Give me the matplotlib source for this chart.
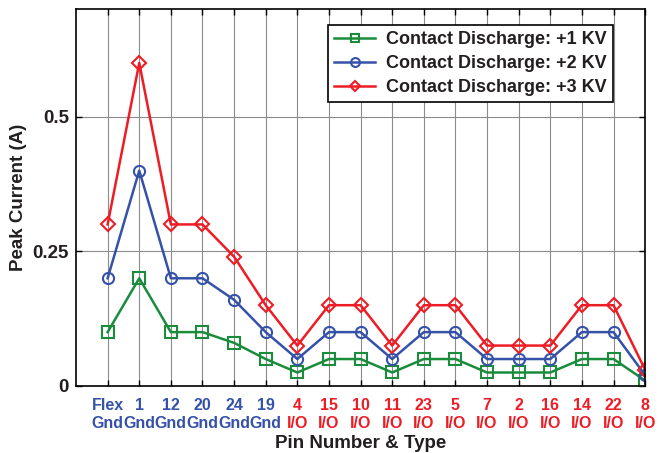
import matplotlib.pyplot as plt
import numpy as np

plt.rcParams['font.family'] = ['Liberation Sans', 'DejaVu Sans']
plt.rcParams['font.weight'] = 'bold'

# --- pins along the connector
pins      = ['Flex', '1', '12', '20', '24', '19', '4', '15', '10', '11',
             '23', '5', '7', '2', '16', '14', '22', '8']
pin_types = ['Gnd'] * 6 + ['I/O'] * 12

# --- peak current (A) per discharge level
kv1 = [0.10, 0.20, 0.10, 0.10, 0.08, 0.05, 0.025, 0.05, 0.05, 0.025,
       0.05, 0.05, 0.025, 0.025, 0.025, 0.05, 0.05, 0.01]
kv2 = [0.20, 0.40, 0.20, 0.20, 0.16, 0.10, 0.05, 0.10, 0.10, 0.05,
       0.10, 0.10, 0.05, 0.05, 0.05, 0.10, 0.10, 0.02]
kv3 = [0.30, 0.60, 0.30, 0.30, 0.24, 0.15, 0.075, 0.15, 0.15, 0.075,
       0.15, 0.15, 0.075, 0.075, 0.075, 0.15, 0.15, 0.03]

c_green = '#1a8c3c'
c_blue  = '#3552a8'
c_red   = '#ee1c25'
c_text  = '#231f20'

x = np.arange(1, len(pins) + 1)

fig = plt.figure(figsize=(6.61, 4.53), dpi=100)
ax = fig.add_axes([0.115, 0.148, 0.861, 0.832])

ax.plot(x, kv1, color=c_green, lw=1.8, marker='s', ms=8, mfc='none', mew=1.5,
        label='Contact Discharge: +1 KV')
ax.plot(x, kv2, color=c_blue, lw=1.8, marker='o', ms=8, mfc='none', mew=1.5,
        label='Contact Discharge: +2 KV')
ax.plot(x, kv3, color=c_red, lw=1.8, marker='D', ms=7, mfc='none', mew=1.5,
        label='Contact Discharge: +3 KV')

ax.set_xlim(0, len(pins))
ax.set_ylim(0, 0.7)
ax.set_xticks(x)
ax.set_xticklabels([f'{p}\n{t}' for p, t in zip(pins, pin_types)],
                   fontsize=11.5, fontweight='bold', linespacing=1.2)
for lbl, t in zip(ax.get_xticklabels(), pin_types):
    lbl.set_color(c_blue if t == 'Gnd' else c_red)
ax.set_yticks([0, 0.25, 0.5])
ax.set_yticklabels(['0', '0.25', '0.5'], fontsize=13.5, fontweight='bold',
                   color=c_text)

ax.tick_params(axis='both', direction='in', top=True, right=True,
               length=4, width=1)
ax.tick_params(axis='x', pad=9)
ax.tick_params(axis='y', pad=5)
ax.grid(True, color='#8c8c8c', lw=0.8)
for s in ax.spines.values():
    s.set_linewidth(1.2)

ax.set_xlabel('Pin Number & Type', fontsize=13.5, fontweight='bold',
              color=c_text, labelpad=3)
ax.set_ylabel('Peak Current (A)', fontsize=13.5, fontweight='bold',
              color=c_text, labelpad=4)

leg = ax.legend(loc='upper right', bbox_to_anchor=(0.944, 0.958),
                borderaxespad=0, prop={'size': 13, 'weight': 'bold'},
                fancybox=False, framealpha=1, edgecolor='black',
                handlelength=2.3, markerscale=0.8, borderpad=0.35,
                labelspacing=0.38, handletextpad=0.6)
leg.get_frame().set_linewidth(1.2)
for t in leg.get_texts():
    t.set_color(c_text)

fig.savefig('out.png', dpi=100)
